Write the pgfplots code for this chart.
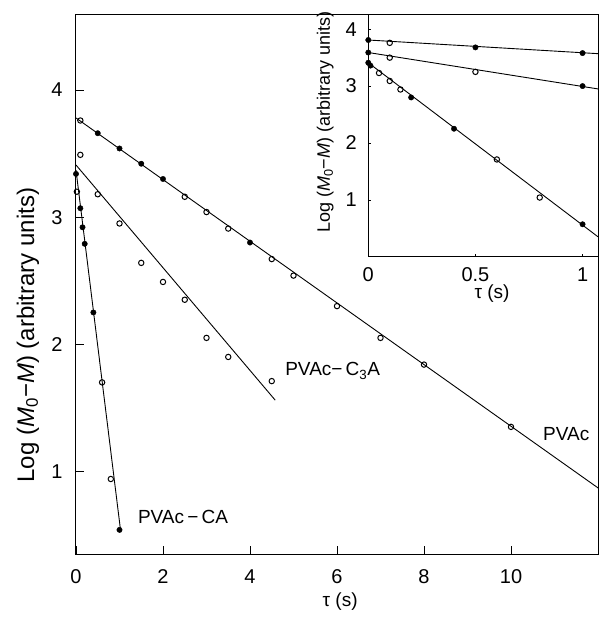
\documentclass[border=0pt]{standalone}
\usepackage{fontspec}
\setmainfont{Liberation Sans}
\usepackage{pgfplots}
\pgfplotsset{compat=1.18}
\begin{document}
\begin{tikzpicture}
\useasboundingbox (-76pt,-64pt) rectangle (523pt,554pt);
\pgfplotsset{
  fmark/.style={only marks, mark=*, mark size=2.7pt, black},
  omark/.style={only marks, mark=o, mark size=2.7pt, black, mark options={line width=1pt, fill=white}},
  fline/.style={black, line width=0.9pt, no marks},
}
\begin{axis}[at={(0pt,0pt)}, anchor=south west, scale only axis,
  width=522pt, height=539pt,
  xmin=0, xmax=12, ymin=0.35, ymax=4.59,
  clip=false,
  axis line style={line width=1pt},
  xtick={0,2,4,6,8,10}, ytick={1,2,3,4},
  tick align=inside, xtick pos=bottom, ytick pos=left,
  major tick length=8pt, tick style={line width=0.8pt, black},
  ticklabel style={font=\fontsize{20}{23}\selectfont},
  xticklabel style={anchor=center, yshift=-23pt},
  yticklabel style={anchor=center, xshift=-19pt},
  /pgf/number format/assume math mode=true,
  xlabel={τ (s)},
  xlabel style={font=\fontsize{19}{22}\selectfont, at={(axis description cs:0.506,0)}, anchor=center, yshift=-48pt},
  ylabel={Log (\textit{M}\textsubscript{0}−\textit{M}) (arbitrary units)},
  ylabel style={font=\fontsize{24}{28}\selectfont, at={(axis description cs:0,0.406)}, anchor=center, yshift=48pt},
]
% PVAc
\addplot[fline] coordinates {(0,3.78) (12,0.87)};
\addplot[fmark] coordinates {(0.5,3.66) (1,3.54) (1.5,3.42) (2,3.30) (4,2.80)};
\addplot[omark] coordinates {(0.1,3.76) (2.5,3.16) (3,3.04) (3.5,2.91) (4.5,2.67) (5,2.54) (6,2.30) (7,2.05) (8,1.84) (10,1.35)};
% PVAc-C3A
\addplot[fline] coordinates {(0,3.41) (4.58,1.56)};
\addplot[omark] coordinates {(0.1,3.49) (0.5,3.18) (1,2.95) (1.5,2.64) (2,2.49) (2.5,2.35) (3,2.05) (3.5,1.90) (4.5,1.71)};
% PVAc-CA
\addplot[fline] coordinates {(0,3.37) (1.03,0.52)};
\addplot[fmark] coordinates {(0,3.34) (0.1,3.07) (0.15,2.92) (0.2,2.79) (0.4,2.25) (1.0,0.54)};
\addplot[omark] coordinates {(0.02,3.20) (0.6,1.70) (0.8,0.94)};
\node[font=\fontsize{19}{22}\selectfont] at (axis cs:2.46,0.64) {PVAc\,−\,CA};
\node[font=\fontsize{19}{22}\selectfont] at (axis cs:5.9,1.79) {PVAc−\,C\textsubscript{3}A};
\node[font=\fontsize{19}{22}\selectfont] at (axis cs:11.27,1.29) {PVAc};
\end{axis}
\begin{axis}[at={(292.3pt,297.3pt)}, anchor=south west, scale only axis,
  width=229.7pt, height=241.7pt,
  xmin=0, xmax=1.072, ymin=0, ymax=4.25,
  clip=false,
  axis line style={line width=1pt},
  xtick={0,0.5,1}, ytick={1,2,3,4},
  tick align=inside, xtick pos=bottom, ytick pos=left,
  major tick length=3pt, tick style={line width=0.6pt, black},
  ticklabel style={font=\fontsize{20}{23}\selectfont},
  xticklabel style={anchor=center, yshift=-18pt, /pgf/number format/fixed},
  yticklabel style={anchor=center, xshift=-17pt},
  /pgf/number format/assume math mode=true,
  xlabel={τ (s)},
  xlabel style={font=\fontsize{19}{22}\selectfont, at={(axis description cs:0.539,0)}, anchor=center, yshift=-37pt},
  ylabel={Log (\textit{M}\textsubscript{0}−\textit{M}) (arbitrary units)},
  ylabel style={font=\fontsize{18}{21}\selectfont, at={(axis description cs:0,0.557)}, anchor=center, yshift=43pt},
]
\addplot[fline] coordinates {(0,3.81) (1.072,3.57)};
\addplot[fmark] coordinates {(0,3.81) (0.5,3.68) (1,3.58)};
\addplot[omark] coordinates {(0.1,3.76)};
\addplot[fline] coordinates {(0,3.59) (1.072,2.95)};
\addplot[fmark] coordinates {(0,3.59) (1,3.0)};
\addplot[omark] coordinates {(0.1,3.50) (0.5,3.25)};
\addplot[fline] coordinates {(0,3.41) (1.072,0.35)};
\addplot[fmark] coordinates {(0,3.41) (0.01,3.36) (0.2,2.80) (0.4,2.25) (1.0,0.57)};
\addplot[omark] coordinates {(0.05,3.23) (0.1,3.09) (0.15,2.94) (0.6,1.71) (0.8,1.04)};
\end{axis}
\end{tikzpicture}
\end{document}
